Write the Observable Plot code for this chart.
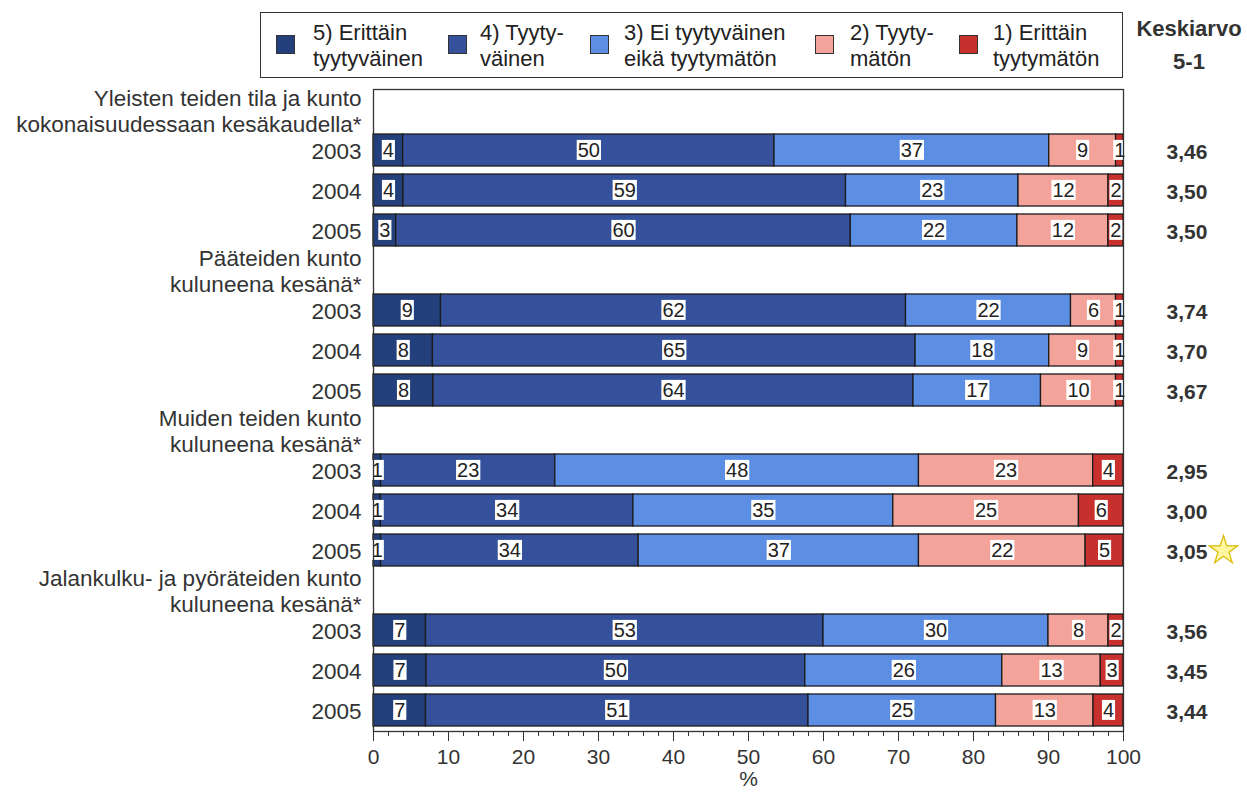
<!DOCTYPE html>
<html><head><meta charset="utf-8">
<script src="https://cdn.jsdelivr.net/npm/d3@7"></script>
<script src="https://cdn.jsdelivr.net/npm/@observablehq/plot@0.6"></script>
<style>
body{margin:0;background:#fff;font-family:"Liberation Sans",Arial,sans-serif;color:#222}
#wrap{position:relative;width:1247px;height:795px;overflow:hidden}
#legend{position:absolute;left:260px;top:12px;width:861px;height:64px;border:1.5px solid #333}
.sw{position:absolute;width:19px;height:19px;border:1px solid #333;top:35px;box-sizing:border-box}
.lt{position:absolute;top:20px;font-size:22px;line-height:26px;white-space:pre;color:#222}
.kh{position:absolute;font-weight:bold;font-size:22px;line-height:26px;color:#333;text-align:center;width:120px;left:1129px}
#chart{position:absolute;left:0;top:60px}
</style>
</head><body>
<div id="wrap">
  <div id="chart"></div>
  <div id="legend"></div>
</div>
<script>
// ---- data ----
const categories = ["5) Erittäin tyytyväinen", "4) Tyytyväinen", "3) Ei tyytyväinen eikä tyytymätön", "2) Tyytymätön", "1) Erittäin tyytymätön"];
const legendLabels = ["5) Erittäin\ntyytyväinen", "4) Tyyty-\nväinen", "3) Ei tyytyväinen\neikä tyytymätön", "2) Tyyty-\nmätön", "1) Erittäin\ntyytymätön"];
const colors = ["#233f7c", "#35519c", "#5c8fe4", "#f4a39a", "#c8302d"];
const groups = [
  "Yleisten teiden tila ja kunto\nkokonaisuudessaan kesäkaudella*",
  "Pääteiden kunto\nkuluneena kesänä*",
  "Muiden teiden kunto\nkuluneena kesänä*",
  "Jalankulku- ja pyöräteiden kunto\nkuluneena kesänä*"
];
const years = ["2003", "2004", "2005"];
// values per row (group x year order)
const v5 = [4, 4, 3, 9, 8, 8, 1, 1, 1, 7, 7, 7];
const v4 = [50, 59, 60, 62, 65, 64, 23, 34, 34, 53, 50, 51];
const v3 = [37, 23, 22, 22, 18, 17, 48, 35, 37, 30, 26, 25];
const v2 = [9, 12, 12, 6, 9, 10, 23, 25, 22, 8, 13, 13];
const v1 = [1, 2, 2, 1, 1, 1, 4, 6, 5, 2, 3, 4];
const means = ["3,46", "3,50", "3,50", "3,74", "3,70", "3,67", "2,95", "3,00", "3,05", "3,56", "3,45", "3,44"];
const starred = [false, false, false, false, false, false, false, false, true, false, false, false];
const xTicks = [0, 10, 20, 30, 40, 50, 60, 70, 80, 90, 100];
const xMinorTicks = d3.range(0, 101, 2);

// ---- legend ----
const swX = [276, 448, 590, 815, 959];
const ltX = [313, 480, 624, 850, 993];
const wrap = document.getElementById("wrap");
legendLabels.forEach((t, i) => {
  const s = document.createElement("div");
  s.className = "sw"; s.style.left = swX[i] + "px"; s.style.background = colors[i];
  wrap.appendChild(s);
  const l = document.createElement("div");
  l.className = "lt"; l.style.left = ltX[i] + "px"; l.textContent = t;
  wrap.appendChild(l);
});
const k1 = document.createElement("div"); k1.className = "kh"; k1.style.top = "16px"; k1.textContent = "Keskiarvo"; wrap.appendChild(k1);
const k2 = document.createElement("div"); k2.className = "kh"; k2.style.top = "49px"; k2.textContent = "5-1"; wrap.appendChild(k2);

// ---- tables ----
const rowKeys = [];
const rowLabels = [];
const rows = [];
const long = [];
const vals = [v5, v4, v3, v2, v1];
groups.forEach((g, gi) => {
  const hk = "h" + gi;
  rowKeys.push(hk);
  rowLabels.push({key: hk, label: g});
  years.forEach((yr, yi) => {
    const i = gi * 3 + yi;
    const k = gi + "-" + yr;
    rowKeys.push(k);
    rowLabels.push({key: k, label: yr});
    rows.push({key: k, mean: means[i], star: starred[i], first: yi === 0});
    categories.forEach((c, ci) => long.push({row: k, cat: c, value: vals[ci][i]}));
  });
});

const chart = Plot.plot({
  width: 1247, height: 735,
  marginLeft: 373, marginRight: 124, marginTop: 29, marginBottom: 64,
  style: {fontFamily: '"Liberation Sans", Arial, sans-serif', fontSize: "20px", color: "#222", background: "#fff"},
  x: {percent: true, domain: [0, 100]},
  y: {domain: rowKeys, paddingInner: 0.2, paddingOuter: 0.1, axis: null},
  color: {domain: categories, range: colors},
  marks: [
    Plot.barX(rows.filter(d => !d.first), {y: "key", fill: "#e3e6ee", insetTop: -8, insetBottom: 30}),
    Plot.gridX(xTicks, {stroke: "#8c8c8c", strokeOpacity: 1}),
    Plot.barX(long, Plot.stackX({offset: "normalize", x: "value", y: "row", fill: "cat", stroke: "#1c1c1c", strokeWidth: 1.3})),
    Plot.text(long, Plot.stackX({offset: "normalize", x: "value", y: "row", z: "cat", text: d => String(d.value), fill: "#222", fontSize: 20, className: "seglbl"})),
    Plot.text(rowLabels, {y: "key", text: "label", frameAnchor: "left", textAnchor: "end", dx: -12, lineHeight: 1.16, fontSize: 22.5, fill: "#333"}),
    Plot.text(rows, {y: "key", text: "mean", frameAnchor: "right", textAnchor: "start", dx: 43, dy: 2, fontWeight: "bold", fontSize: 21, fill: "#333"}),
    Plot.dot(rows.filter(d => d.star), {y: "key", frameAnchor: "right", dx: 100, symbol: "star", r: 9, fill: "#fff7a0", stroke: "#d8b800", strokeWidth: 1.2}),
    Plot.frame({stroke: "#333", strokeWidth: 1.3}),
    Plot.axisX({ticks: xMinorTicks, tickSize: 5, tickFormat: () => "", label: null, stroke: "#333"}),
    Plot.axisX({ticks: xTicks, tickSize: 10, tickPadding: 8, fontSize: 21, label: null, stroke: "#333", fill: "#333"}),
    Plot.text(["%"], {frameAnchor: "bottom", dy: 54, fontSize: 21, fill: "#333"})
  ]
});
document.getElementById("chart").appendChild(chart);

// white boxes behind segment labels
d3.select(chart).selectAll("g.seglbl text").each(function() {
  const b = this.getBBox();
  d3.select(this.parentNode).insert("rect", () => this)
    .attr("x", b.x - 1).attr("y", b.y + 1).attr("width", b.width + 2).attr("height", b.height - 2)
    .attr("fill", "#fff").attr("transform", this.getAttribute("transform"));
});
</script>
</body></html>
